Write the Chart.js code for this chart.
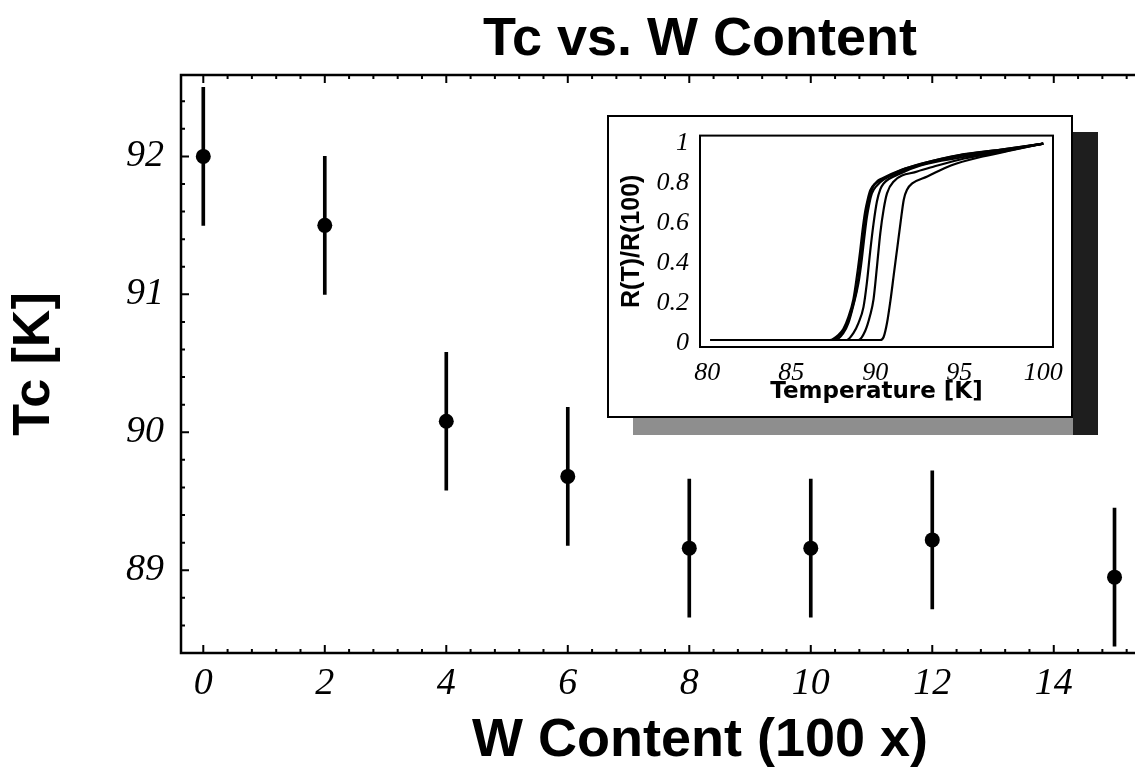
<!DOCTYPE html>
<html><head><meta charset="utf-8">
<script src="https://cdn.jsdelivr.net/npm/chart.js@4"></script>
<style>
html,body{margin:0;padding:0;background:#fff;overflow:hidden;width:1135px;height:776px;}
#wrap{position:relative;width:1135px;height:776px;overflow:hidden;background:#fff;}
#main{position:absolute;left:0;top:0;}
#shR{position:absolute;left:1073px;top:132px;width:25px;height:303px;background:#1e1e1e;}
#shB{position:absolute;left:633px;top:418px;width:440px;height:17px;background:#8e8e8e;}
#box{position:absolute;left:607px;top:115px;width:466px;height:303px;box-sizing:border-box;border:2px solid #000;background:#fff;}
#inset{position:absolute;left:0;top:0;}
</style></head>
<body><div id="wrap">
<canvas id="main" width="1240" height="776"></canvas>
<div id="shR"></div><div id="shB"></div>
<div id="box"><canvas id="inset" width="462" height="299"></canvas></div>
</div>
<script>
// ---- main chart data ----
const wContent = [0, 2, 4, 6, 8, 10, 12, 15];
const tcValues = [92.0, 91.5, 90.08, 89.68, 89.16, 89.16, 89.22, 88.95];
const tcErrors = [0.5, 0.5, 0.5, 0.5, 0.5, 0.5, 0.5, 0.5];
const xTickValues = [0, 2, 4, 6, 8, 10, 12, 14];
const yTickValues = [89, 90, 91, 92];

// ---- inset data: R(T)/R(100) vs temperature ----
const insetXTicks = [80, 85, 90, 95, 100];
const insetYTicks = [0, 0.2, 0.4, 0.6, 0.8, 1];
const insetYLabels = ['0', '0.2', '0.4', '0.6', '0.8', '1'];
const tempA1 = [80.2, 87.3, 87.8, 88.1, 88.4, 88.7, 88.9, 89.1, 89.25, 89.4, 89.55, 89.7, 90.0, 90.3, 91.5, 92.7, 94.9, 97.4, 100];
const resA1  = [0.015, 0.015, 0.04, 0.07, 0.13, 0.22, 0.33, 0.46, 0.57, 0.66, 0.72, 0.765, 0.8, 0.815, 0.865, 0.898, 0.94, 0.968, 1.0];
const tempA3 = [80.2, 87.45, 87.95, 88.25, 88.55, 88.85, 89.05, 89.22, 89.38, 89.52, 89.68, 89.85, 90.1, 90.4, 91.6, 92.8, 95.0, 97.5, 100];
const resA3  = [0.015, 0.015, 0.045, 0.08, 0.15, 0.25, 0.36, 0.49, 0.6, 0.68, 0.74, 0.78, 0.81, 0.825, 0.87, 0.9, 0.942, 0.97, 1.0];
const tempA2 = [80.2, 87.6, 88.1, 88.4, 88.7, 89.0, 89.2, 89.35, 89.5, 89.65, 89.8, 90.1, 90.5, 91.6, 92.8, 95.0, 97.5, 100];
const resA2  = [0.015, 0.015, 0.05, 0.1, 0.19, 0.3, 0.42, 0.53, 0.63, 0.7, 0.75, 0.79, 0.82, 0.86, 0.895, 0.937, 0.966, 1.0];
const tempB  = [80.2, 88.3, 88.7, 89.0, 89.3, 89.5, 89.7, 89.9, 90.1, 90.3, 90.5, 91.5, 92.7, 95.1, 97.5, 100];
const resB   = [0.015, 0.015, 0.05, 0.1, 0.18, 0.3, 0.46, 0.6, 0.71, 0.77, 0.8, 0.85, 0.89, 0.93, 0.962, 1.0];
const tempC  = [80.2, 89.0, 89.4, 89.7, 89.9, 90.1, 90.3, 90.5, 90.7, 91.1, 92.5, 93.5, 95.3, 97.6, 100];
const resC   = [0.015, 0.015, 0.06, 0.14, 0.22, 0.38, 0.55, 0.67, 0.75, 0.81, 0.86, 0.885, 0.925, 0.96, 1.0];
const tempD  = [80.2, 90.3, 90.5, 90.7, 90.9, 91.1, 91.3, 91.5, 91.7, 91.9, 92.2, 93.1, 94.5, 96.4, 98.2, 100];
const resD   = [0.015, 0.015, 0.03, 0.1, 0.21, 0.34, 0.47, 0.6, 0.72, 0.77, 0.8, 0.835, 0.89, 0.935, 0.968, 1.0];
const insetCurves = [[tempA1, resA1], [tempA3, resA3], [tempA2, resA2], [tempB, resB], [tempC, resC], [tempD, resD]];

// frame + inward ticks drawn from the chart's own scales
const frameTicks = {
  id: 'frameTicks',
  afterDatasetsDraw(chart, args, o) {
    const {ctx, chartArea: a, scales: {x, y}} = chart;
    ctx.save();
    ctx.strokeStyle = '#000';
    ctx.lineWidth = o.frameWidth;
    ctx.strokeRect(a.left, a.top, a.right - a.left, a.bottom - a.top);
    if (o.ticks) {
      ctx.lineWidth = o.tickWidth;
      ctx.beginPath();
      for (let i = 0; ; i++) {
        const v = i * o.xMinor;
        if (v > x.max) break;
        const px = x.getPixelForValue(v);
        const major = Math.abs(v / o.xMajor - Math.round(v / o.xMajor)) < 1e-6;
        const L = major ? o.majorLen : o.minorLen;
        ctx.moveTo(px, a.bottom); ctx.lineTo(px, a.bottom - L);
        ctx.moveTo(px, a.top); ctx.lineTo(px, a.top + L);
      }
      for (let i = 0; ; i++) {
        const v = o.yStart + i * o.yMinor;
        if (v > y.max + 1e-9) break;
        const py = y.getPixelForValue(v);
        const major = Math.abs(v - Math.round(v)) < 1e-6;
        const L = major ? o.majorLen : o.minorLen;
        ctx.moveTo(a.left, py); ctx.lineTo(a.left + L, py);
        ctx.moveTo(a.right, py); ctx.lineTo(a.right - L, py);
      }
      ctx.stroke();
    }
    ctx.restore();
  }
};

const serifItalic = (size) => ({family: "'Liberation Serif', 'Times New Roman', serif", size, style: 'italic', lineHeight: 1.2});
const sansBold = (size, fam) => ({family: fam || "'Liberation Sans', Arial, sans-serif", size, weight: 'bold', lineHeight: 1});

new Chart(document.getElementById('main'), {
  type: 'scatter',
  data: {
    datasets: [
      {
        type: 'scatter',
        data: wContent.map((x, i) => ({x, y: tcValues[i]})),
        pointRadius: 7.5, pointBackgroundColor: '#000', pointBorderWidth: 0, order: 0
      },
      {
        type: 'bar',
        data: wContent.map((x, i) => ({x, y: [tcValues[i] - tcErrors[i], tcValues[i] + tcErrors[i]]})),
        backgroundColor: '#000', barThickness: 3, borderWidth: 0, order: 1
      }
    ]
  },
  options: {
    responsive: false, animation: false, devicePixelRatio: 1,
    layout: {padding: {left: 0, right: 21, top: 0, bottom: 0}},
    plugins: {
      legend: {display: false}, tooltip: {enabled: false},
      title: {display: true, text: 'Tc vs. W Content', fullSize: false, color: '#000',
              font: sansBold(54), padding: {top: 13, bottom: 8}},
      frameTicks: {frameWidth: 2.5, ticks: true, tickWidth: 2, majorLen: 8, minorLen: 4,
                   xMinor: 0.4, xMajor: 2, yStart: 88.4, yMinor: 0.2}
    },
    scales: {
      x: {
        type: 'linear', min: -0.367, max: 16.72, offset: false,
        grid: {display: false}, border: {display: false},
        afterBuildTicks: s => { s.ticks = xTickValues.map(v => ({value: v})); },
        afterFit: s => { s.height = 123; },
        ticks: {font: serifItalic(38), color: '#000', padding: 0, maxRotation: 0, autoSkip: false,
                callback: v => String(v)},
        title: {display: true, text: 'W Content (100 x)', color: '#000', font: sansBold(54),
                padding: {top: 0, bottom: 8}}
      },
      y: {
        type: 'linear', min: 88.4, max: 92.59,
        grid: {display: false}, border: {display: false},
        afterBuildTicks: s => { s.ticks = yTickValues.map(v => ({value: v})); },
        afterFit: s => { s.width = 181; },
        ticks: {font: serifItalic(38), color: '#000', padding: 9, callback: v => String(v)},
        title: {display: true, text: 'Tc [K]', color: '#000', font: sansBold(52), padding: {top: 9}}
      }
    }
  },
  plugins: [frameTicks]
});

new Chart(document.getElementById('inset'), {
  type: 'line',
  data: {
    datasets: insetCurves.map(([t, r]) => ({
      data: t.map((v, i) => ({x: v, y: r[i]})),
      borderColor: '#000', borderWidth: 2.2, pointRadius: 0, fill: false,
      cubicInterpolationMode: 'monotone'
    }))
  },
  options: {
    responsive: false, animation: false, devicePixelRatio: 1,
    layout: {padding: {left: 0, right: 18, top: 18, bottom: 0}},
    plugins: {legend: {display: false}, tooltip: {enabled: false},
      frameTicks: {frameWidth: 2, ticks: false}},
    scales: {
      x: {
        type: 'linear', min: 79.57, max: 100.58, offset: false,
        grid: {display: false}, border: {display: false},
        afterBuildTicks: s => { s.ticks = insetXTicks.map(v => ({value: v})); },
        afterFit: s => { s.height = 69; },
        ticks: {font: serifItalic(26), color: '#000', padding: 3, maxRotation: 0, autoSkip: false,
                callback: v => String(v)},
        title: {display: true, text: 'Temperature [K]', color: '#000',
                font: sansBold(23, "'DejaVu Sans', sans-serif"), padding: {top: 0, bottom: 12}}
      },
      y: {
        type: 'linear', min: -0.02, max: 1.04,
        grid: {display: false}, border: {display: false},
        afterBuildTicks: s => { s.ticks = insetYTicks.map(v => ({value: v})); },
        afterFit: s => { s.width = 91; },
        ticks: {font: serifItalic(26), color: '#000', padding: 3,
                callback: v => insetYLabels[insetYTicks.indexOf(v)]},
        title: {display: true, text: 'R(T)/R(100)', color: '#000', font: sansBold(25), padding: {top: 11}}
      }
    }
  },
  plugins: [frameTicks]
});
</script>
</body></html>
